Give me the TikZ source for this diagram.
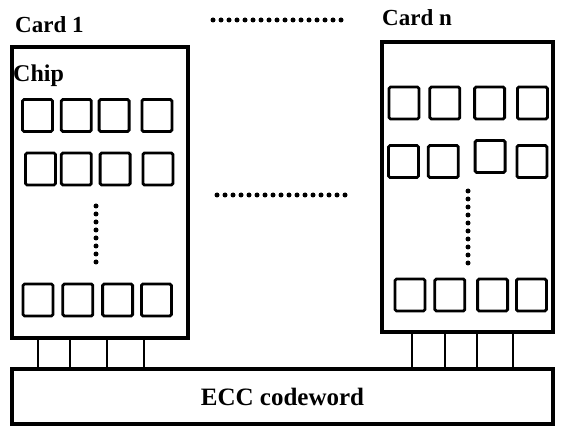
\documentclass[tikz,border=0pt]{standalone}
\usepackage{fontspec}
\setmainfont{Liberation Serif}
\usetikzlibrary{positioning}

\begin{document}
\begin{tikzpicture}[
  x=1pt, y=-1pt,
  card/.style={rectangle, draw=black, line width=3.4pt, inner sep=0pt},
  chip/.style={rectangle, draw=black, line width=2.8pt, rounded corners=1.5pt, minimum width=30pt, minimum height=32pt, inner sep=0pt},
  lbl/.style={inner sep=0pt, anchor=base west, font=\fontsize{23}{26}\selectfont\bfseries},
  bus/.style={line width=2.8pt, draw=black},
  dotrow/.style={line width=5pt, line cap=round, dash pattern=on 0pt off 8pt},
]
  \useasboundingbox (0,0) rectangle (564,427);

  \node[card, minimum width=176pt, minimum height=291pt] (card1) at (100,192.5) {};
  \node[card, minimum width=171pt, minimum height=290pt] (cardn) at (467.5,187) {};
  \node[card, minimum width=541pt, minimum height=55pt, font=\fontsize{25}{28}\selectfont\bfseries] (ecc) at (282.5,396.5) {ECC codeword};

  \node[lbl] (card1lbl) at (15,33) {Card 1};
  \node[lbl] (cardnlbl) at (382,26) {Card n};
  \node[lbl, font=\fontsize{24}{26}\selectfont\bfseries] (chiplbl) at (13,82) {Chip};

  % card 1 chips
  \node[chip] (a11) at (37.5,115.5) {};
  \node[chip, right=6pt of a11] (a12) {};
  \node[chip, right=5pt of a12] (a13) {};
  \node[chip, right=10pt of a13] (a14) {};

  \node[chip] (a21) at (40.5,169) {};
  \node[chip, right=3pt of a21] (a22) {};
  \node[chip, right=6pt of a22] (a23) {};
  \node[chip, right=10pt of a23] (a24) {};

  \node[chip] (a31) at (38,300) {};
  \node[chip, right=7pt of a31] (a32) {};
  \node[chip, right=7pt of a32] (a33) {};
  \node[chip, right=6pt of a33] (a34) {};

  % card n chips
  \node[chip] (b11) at (404,103) {};
  \node[chip, right=8pt of b11] (b12) {};
  \node[chip, right=12pt of b12] (b13) {};
  \node[chip, right=10pt of b13] (b14) {};

  \node[chip] (b21) at (403.5,161.5) {};
  \node[chip, right=7pt of b21] (b22) {};
  \node[chip, right=14pt of b22, yshift=5pt] (b23) {};
  \node[chip, right=9pt of b23, yshift=-5pt] (b24) {};

  \node[chip] (b31) at (410,295) {};
  \node[chip, right=7pt of b31] (b32) {};
  \node[chip, right=10pt of b32] (b33) {};
  \node[chip, right=6pt of b33] (b34) {};

  % ellipses
  \coordinate (dta) at (213,20);
  \coordinate (dtb) at (343,20);
  \coordinate (dma) at (217,195);
  \coordinate (dmb) at (345,195);
  \coordinate (d1a) at (96,206);
  \coordinate (d1b) at (96,262);
  \coordinate (dna) at (468,191);
  \coordinate (dnb) at (468,263);
  \draw[dotrow] (dta) -- (dtb);
  \draw[dotrow] (dma) -- (dmb);
  \draw[dotrow] (d1a) -- (d1b);
  \draw[dotrow] (dna) -- (dnb);

  % links to the codeword
  \draw[bus] (card1.south -| 38,0) -- (ecc.north -| 38,0);
  \draw[bus] (card1.south -| 70,0) -- (ecc.north -| 70,0);
  \draw[bus] (card1.south -| 107,0) -- (ecc.north -| 107,0);
  \draw[bus] (card1.south -| 144,0) -- (ecc.north -| 144,0);
  \draw[bus] (cardn.south -| 412,0) -- (ecc.north -| 412,0);
  \draw[bus] (cardn.south -| 445,0) -- (ecc.north -| 445,0);
  \draw[bus] (cardn.south -| 477,0) -- (ecc.north -| 477,0);
  \draw[bus] (cardn.south -| 513,0) -- (ecc.north -| 513,0);
\end{tikzpicture}
\end{document}
